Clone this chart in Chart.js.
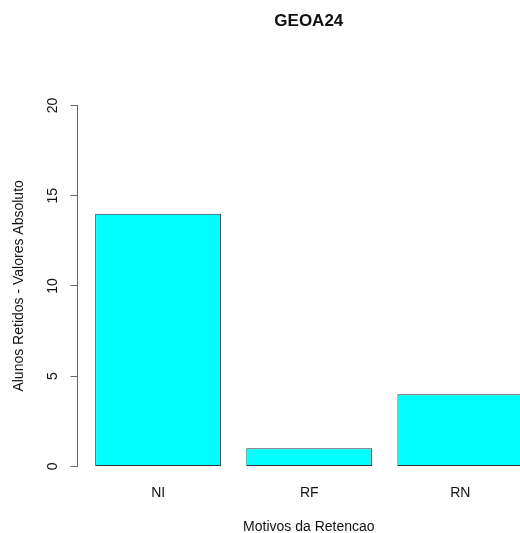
<!DOCTYPE html>
<html>
<head>
<meta charset="utf-8">
<title>GEOA24</title>
<script src="https://cdn.jsdelivr.net/npm/chart.js@4/dist/chart.umd.min.js"></script>
<style>
  html, body { margin: 0; padding: 0; background: #fff; overflow: hidden; }
  #wrap { width: 540px; height: 540px; }
</style>
</head>
<body>
<div id="wrap"><canvas id="barChart" width="540" height="540"></canvas></div>
<script>
// data
const categories = ['NI', 'RF', 'RN'];
const retidos = [14, 1, 4];
const yTicks = [0, 5, 10, 15, 20];

const chartTitle = 'GEOA24';
const xTitle = 'Motivos da Retencao';
const yTitle = 'Alunos Retidos - Valores Absoluto';

const font = '"Liberation Sans", Arial, Helvetica, sans-serif';
const ink = '#111';

// bars sit on index positions, like R's barplot (space 0.2 -> bar is 1/1.2 of the pitch)
const points = retidos.map((v, i) => ({ x: i, y: v }));

const ctx = document.getElementById('barChart').getContext('2d');
new Chart(ctx, {
    type: 'bar',
    data: {
        datasets: [{
            label: yTitle,
            data: points,
            backgroundColor: '#00ffff',
            borderColor: '#333',
            borderWidth: 1,
            borderSkipped: false,
            barPercentage: 1 / 1.2,
            categoryPercentage: 1
        }]
    },
    options: {
        responsive: false,
        animation: false,
        devicePixelRatio: 1,
        layout: { padding: 0 },
        plugins: {
            legend: { display: false },
            tooltip: { enabled: false },
            title: {
                display: true,
                text: chartTitle,
                fullSize: false,
                color: ink,
                font: { family: font, size: 17, weight: 'bold' },
                padding: { top: 11, bottom: 74 }
            }
        },
        scales: {
            x: {
                type: 'linear',
                offset: false,
                min: -0.533,
                max: 2.527,
                afterBuildTicks: (scale) => {
                    scale.ticks = categories.map((c, i) => ({ value: i }));
                },
                ticks: {
                    color: ink,
                    font: { family: font, size: 14 },
                    padding: 18,
                    maxRotation: 0,
                    autoSkip: false,
                    callback: (value) => categories[value]
                },
                grid: { display: false, drawTicks: false, offset: false },
                border: { display: false },
                title: {
                    display: true,
                    text: xTitle,
                    color: ink,
                    font: { family: font, size: 14 },
                    padding: { top: 0, bottom: 4 }
                }
            },
            y: {
                min: 0,
                max: 20,
                afterBuildTicks: (scale) => {
                    scale.ticks = yTicks.map(v => ({ value: v }));
                },
                ticks: {
                    color: ink,
                    font: { family: font, size: 14 },
                    padding: 10,
                    minRotation: 90,
                    maxRotation: 90,
                    crossAlign: 'center'
                },
                grid: {
                    display: true,
                    drawOnChartArea: false,
                    drawTicks: true,
                    tickLength: 7,
                    color: '#666',
                    lineWidth: 1
                },
                border: { display: true, color: '#666', width: 1 },
                title: {
                    display: true,
                    text: yTitle,
                    color: ink,
                    font: { family: font, size: 14 },
                    padding: { top: 11, bottom: 6 }
                }
            }
        }
    }
});
</script>
</body>
</html>
